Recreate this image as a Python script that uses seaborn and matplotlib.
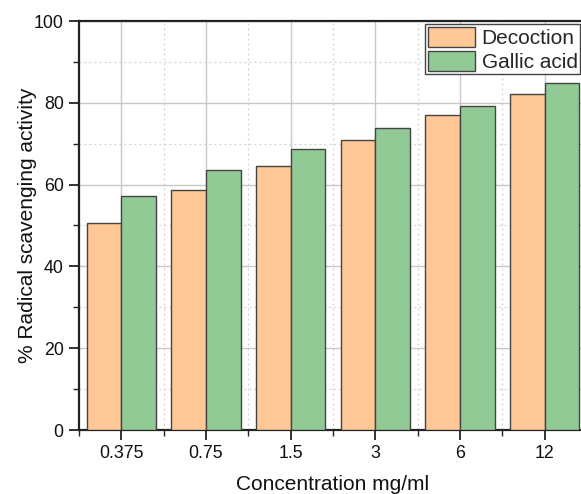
import numpy as np
import pandas as pd
import matplotlib
matplotlib.use("Agg")
import matplotlib.pyplot as plt
import seaborn as sns
from matplotlib.ticker import MultipleLocator, FixedLocator
from matplotlib.patches import Patch

concentrations = ["0.375", "0.75", "1.5", "3", "6", "12"]
decoction = [50.5, 58.7, 64.5, 70.9, 77.0, 82.2]
gallic_acid = [57.2, 63.5, 68.6, 73.8, 79.1, 84.8]
series_names = ["Decoction", "Gallic acid"]
colors = ["#FFC896", "#92CA96"]

df = pd.DataFrame({
    "Concentration": concentrations * 2,
    "value": decoction + gallic_acid,
    "Series": [series_names[0]] * len(concentrations) + [series_names[1]] * len(concentrations),
})

sns.set_theme(style="white")
plt.rcParams["font.family"] = ["Liberation Sans", "DejaVu Sans"]

W, H = 581, 494
fig = plt.figure(figsize=(W / 100, H / 100), dpi=100)
ax = fig.add_axes([79 / W, 1 - 430 / H, (587 - 79) / W, (430 - 21) / H])

sns.barplot(data=df, x="Concentration", y="value", hue="Series",
            order=concentrations, hue_order=series_names, palette=colors,
            saturation=1, width=0.815, edgecolor="#444444", linewidth=1.0,
            ax=ax, zorder=3, legend=False)

ax.set_xlim(-0.5, 5.5)
ax.set_ylim(0, 100)
ax.yaxis.set_major_locator(MultipleLocator(20))
ax.yaxis.set_minor_locator(MultipleLocator(10))
ax.xaxis.set_minor_locator(FixedLocator(np.arange(-0.5, 6.0, 1.0)))

ax.grid(which="major", color="#c8c8c8", linestyle="-", linewidth=1.0, zorder=0)
ax.grid(which="minor", color="#d0d0d0", linestyle=(0, (1.5, 2.5)), linewidth=0.9, zorder=0)
ax.set_axisbelow(True)

for s in ["left", "bottom", "top", "right"]:
    ax.spines[s].set_visible(True)
    ax.spines[s].set_color("#222222")
    ax.spines[s].set_linewidth(1.6)

ax.tick_params(which="major", direction="out", length=7, width=1.3, color="#222222",
               labelsize=12.8, labelcolor="#111111", left=True, bottom=True, pad=4)
ax.tick_params(which="minor", direction="out", length=4, width=1.0, color="#222222",
               left=True, bottom=True)

ax.set_xlabel("Concentration mg/ml", fontsize=15, color="#111111", labelpad=9)
ax.set_ylabel("% Radical scavenging activity", fontsize=15, color="#111111", labelpad=-2)

handles = [Patch(facecolor=c, edgecolor="#444444", linewidth=1.0) for c in colors]
leg = fig.legend(handles, series_names, loc="upper left",
                 bbox_to_anchor=(425 / W, 1 - 24 / H), frameon=True, fancybox=False,
                 edgecolor="#444444", framealpha=1, fontsize=15,
                 handlelength=2.3, handleheight=1.1, handletextpad=0.3,
                 labelspacing=0.15, borderpad=0.12, borderaxespad=0)
leg.get_frame().set_linewidth(1.0)

fig.savefig("out.png", dpi=100)
